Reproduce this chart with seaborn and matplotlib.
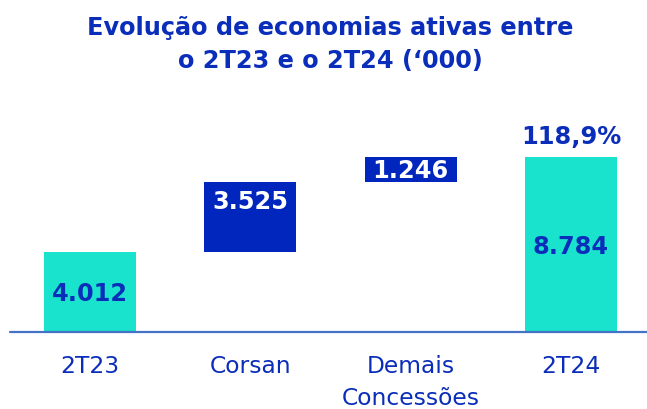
import matplotlib
matplotlib.use("Agg")
import matplotlib.pyplot as plt
import pandas as pd
import seaborn as sns

# data (thousand connections)
categories = ["2T23", "Corsan", "Demais\nConcessões", "2T24"]
values = [4.012, 3.525, 1.246, 8.784]
kinds = ["total", "step", "step", "total"]
value_labels = ["4.012", "3.525", "1.246", "8.784"]
growth_label = "118,9%"

TEAL = "#19E3CC"
NAVY = "#0026BE"
TEXT = "#0A2DBA"
AXIS = "#4472C4"

# waterfall: totals start at 0, steps start on the running sum
bases, tops = [], []
running = 0.0
for v, k in zip(values, kinds):
    if k == "total":
        bases.append(0.0)
        tops.append(v)
        running = v
    else:
        bases.append(running)
        tops.append(running + v)
        running += v

df = pd.DataFrame({"categoria": categories, "topo": tops, "base": bases, "tipo": kinds})

sns.set_theme(style="white")
plt.rcParams["font.family"] = ["DejaVu Sans"]

fig = plt.figure(figsize=(6.47, 4.10), dpi=100)
ax = fig.add_axes([10 / 647, 77.5 / 410, 637 / 647, 238 / 410])

sns.barplot(data=df, x="categoria", y="topo", hue="tipo",
            palette={"total": TEAL, "step": NAVY}, width=0.575,
            dodge=False, legend=False, linewidth=0, saturation=1, ax=ax)
# white bases hide the lower part of the step bars
sns.barplot(data=df, x="categoria", y="base", color="white", width=0.59,
            linewidth=0, saturation=1, ax=ax)

ax.set_xlim(-0.5, 3.475)
ax.set_ylim(0, 12)
ax.axhline(0, color=AXIS, lw=1.6, zorder=5, clip_on=False)
for s in ax.spines.values():
    s.set_visible(False)
ax.set_yticks([])
ax.set_xlabel("")
ax.set_ylabel("")
ax.tick_params(axis="x", length=0, pad=16, labelsize=16.8, labelcolor=TEXT)
for lab in ax.get_xticklabels():
    lab.set_linespacing(1.5)

lab_kw = dict(ha="center", va="center", fontsize=17.3, fontweight="bold")
for i, (b, t, k, s) in enumerate(zip(bases, tops, kinds, value_labels)):
    if k == "total":
        ax.text(i, b + (t - b) * 0.49, s, color=TEXT, **lab_kw)
    elif t - b > 2:
        ax.text(i, t - 0.98, s, color="white", **lab_kw)
    else:
        ax.text(i, (b + t) / 2, s, color="white", **lab_kw)
ax.text(3, tops[3] + 1.08, growth_label, color=TEXT, **lab_kw)

fig.text(330 / 647, 1 - 35 / 410, "Evolução de economias ativas entre",
         ha="center", va="baseline", fontsize=17.3, fontweight="bold", color=TEXT)
fig.text(330 / 647, 1 - 68.3 / 410, "o 2T23 e o 2T24 (‘000)",
         ha="center", va="baseline", fontsize=17.3, fontweight="bold", color=TEXT)

fig.savefig("out.png", dpi=100)
